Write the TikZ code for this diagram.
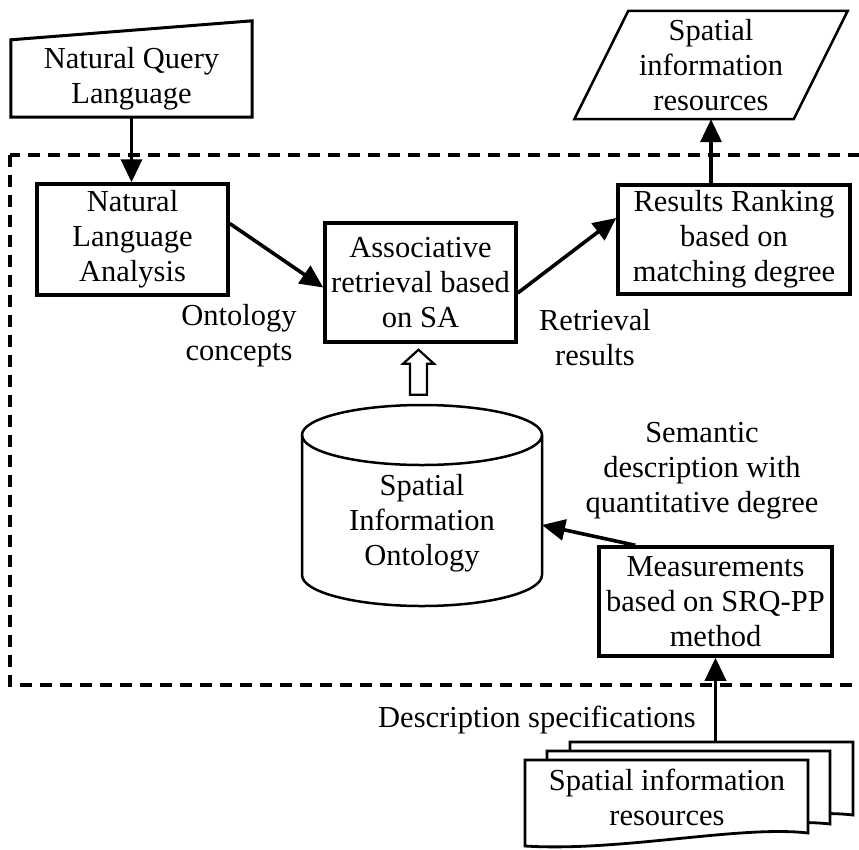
\documentclass[tikz,border=0pt]{standalone}
\usepackage{fontspec}
\setmainfont{Liberation Serif}
\usetikzlibrary{shapes.geometric,arrows.meta}
\usetikzlibrary{calc}

\begin{document}
\begin{tikzpicture}[x=1pt, y=-1pt,
    every node/.style={font=\fontsize{30.5}{35}\selectfont, align=center, inner sep=0pt},
    box/.style={draw, line width=3.5pt},
    outline/.style={line width=2.5pt, line join=miter},
    arr/.style={line width=3.6pt, -{Triangle[length=23pt,width=21pt]}}]
  \useasboundingbox (0,0) rectangle (859,849);
  % Draw dashed frame
  \draw [line width=3.6pt, dash pattern=on 12pt off 8pt] (10,155) rectangle (875,685);
  % draw query input
  \node (nql) [minimum width=241pt, minimum height=77pt] at (131.5,78.5)
        {Natural Query\\Language};
  \draw [outline, line width=3pt] (nql.south west) -- (nql.south east)
        -- ($(nql.north east)+(0,-19)$) -- (nql.north west) -- cycle;
  % draw process boxes
  \node (nla)   [box, minimum width=191pt, minimum height=111pt] at (132.5,239.5)
        {Natural\\Language\\Analysis};
  \node (assoc) [box, minimum width=191pt, minimum height=119pt] at (420.5,282.5)
        {Associative\\retrieval based\\on SA};
  \node (rank)  [box, minimum width=232pt, minimum height=109pt] at (734,239.5)
        {Results Ranking\\based on\\matching degree};
  \node (meas)  [box, minimum width=233pt, minimum height=109pt] at (715.5,601.5)
        {Measurements\\based on SRQ-PP\\method};
  % draw output
  \node (sir) [minimum width=219pt, minimum height=108pt] at (711,65)
        {Spatial\\information\\resources};
  \draw [outline] ($(sir.north west)+(27,0)$) -- ($(sir.north east)+(27,0)$)
        -- ($(sir.south east)+(-27,0)$) -- ($(sir.south west)+(-27,0)$) -- cycle;
  % draw ontology store
  \draw [outline] (302,435) -- (302,575)
        arc [start angle=180, end angle=360, x radius=120pt, y radius=31pt] -- (542,435);
  \draw [outline] (422,435) ellipse [x radius=120pt, y radius=30pt];
  \node (onto) at (422,523) {Spatial\\Information\\Ontology};
  \coordinate (ontoside) at (542,525);
  % draw document stack
  \foreach \dx/\dy in {45/-18, 22/-9, 0/0}
    \draw [outline, line width=2.8pt, fill=white, shift={(\dx,\dy)}] (525,760) -- (808,760) -- (808,833)
          .. controls (740,825) and (620,852) .. (525,846) -- cycle;
  \node (spec) at (667,797) {Spatial information\\resources};
  \coordinate (stacktop) at (570,742);
  % draw labels
  \node (ontlbl)  at (239,336) {Ontology\\concepts};
  \node (retlbl)  at (595,337.5) {Retrieval\\results};
  \node (semlbl)  at (702,471) {Semantic\\description with\\quantitative degree};
  \node (desclbl) at (537,720) {Description specifications};
  % draw arrows
  \draw [arr] (nql.south) -- (nql.south |- nla.north);
  \draw [arr] ($(nla.east)+(0,-16)$) -- ($(assoc.west)+(0,5)$);
  \draw [arr] ($(assoc.east)+(0,10.5)$) -- ($(rank.west)+(0,-21.5)$);
  \draw [arr] (rank.north -| sir.south) -- (sir.south);
  \draw [arr] ($(meas.north west)+(38,0)$) -- (ontoside);
  \draw [arr] (meas.south |- stacktop) -- (meas.south);
  % hollow arrow into retrieval
  \draw [line width=2.2pt] ($(assoc.south)+(-2,6)$) -- ++(-15.5,14) -- ++(7,0)
        -- ++(0,31) -- ++(17,0) -- ++(0,-31) -- ++(7,0) -- cycle;
\end{tikzpicture}
\end{document}
